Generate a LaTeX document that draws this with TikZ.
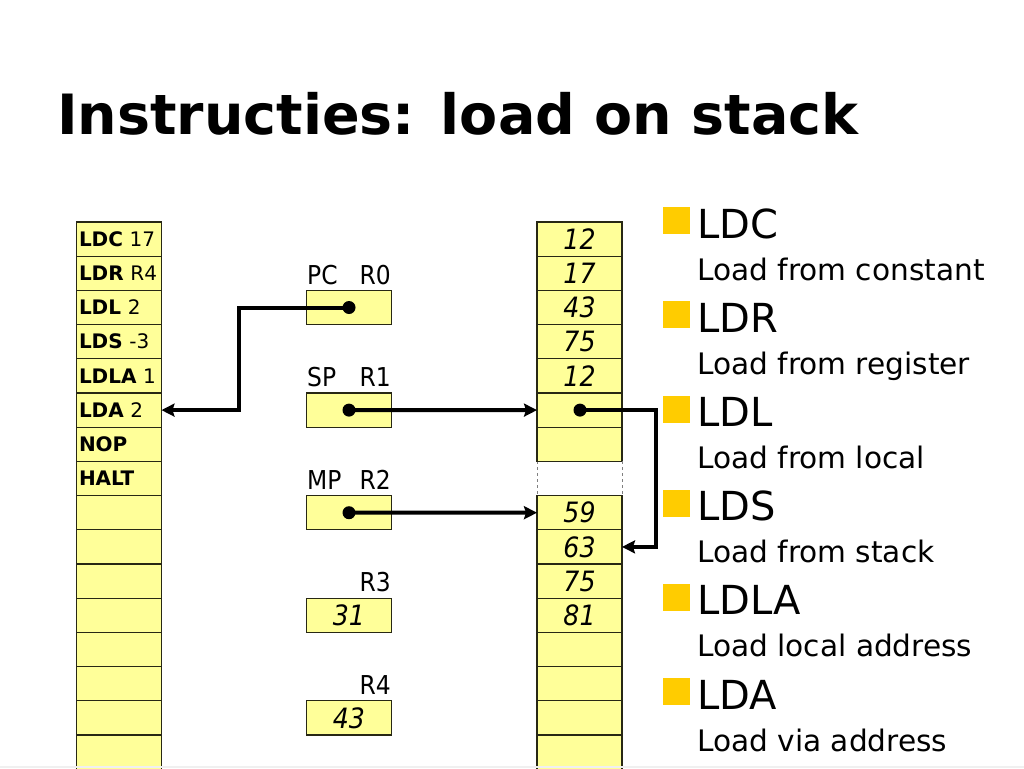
\documentclass[tikz,border=0pt]{standalone}
\usepackage{fontspec}
\setmainfont{DejaVu Sans}
\newfontfamily\condfont{DejaVu Sans Condensed}
\usetikzlibrary{arrows.meta}
\definecolor{cellyellow}{RGB}{255,255,153}
\definecolor{bulletyellow}{RGB}{255,204,0}
\definecolor{cellborder}{RGB}{40,40,20}
\begin{document}
\begin{tikzpicture}[x=1pt,y=-1pt,
  cell/.style={draw=cellborder, line width=1.2pt, fill=cellyellow, minimum width=85pt, minimum height=34.2pt, inner sep=0pt, outer sep=0pt},
  instr/.style={cell, text width=80pt, inner xsep=2.5pt, align=left, font=\fontsize{20}{24}\selectfont},
  val/.style={cell, font=\condfont\fontsize{28}{32}\selectfont\itshape},
  reglabel/.style={font=\condfont\fontsize{26}{30}\selectfont, inner sep=0pt},
  dot/.style={circle, fill=black, minimum size=13pt, inner sep=0pt},
  conn/.style={line width=4pt, -{Stealth[length=13pt,width=13pt,inset=2pt]}},
  bullet/.style={fill=bulletyellow, draw=none, minimum size=27pt, inner sep=0pt, anchor=north west},
  bigtext/.style={font=\fontsize{40}{44}\selectfont, inner sep=0pt, anchor=base west},
  subtext/.style={font=\fontsize{29.6}{34}\selectfont, inner sep=0pt, anchor=base west},
  gapline/.style={draw=gray, line width=1pt, dashed}
]
\useasboundingbox (0,0) rectangle (1024,768);
\fill[white] (0,0) rectangle (1024,768);

% title
\node[font=\fontsize{55.5}{60}\selectfont\bfseries, inner sep=0pt, anchor=base west] (title) at (57,134) {Instructies: load on stack};

% program column
\foreach \k/\t in {0/{\textbf{LDC} 17},1/{\textbf{LDR} R4},2/{\textbf{LDL} 2},3/{\textbf{LDS} -3},4/{\textbf{LDLA} 1},5/{\textbf{LDA} 2},6/{\textbf{NOP}},7/{\textbf{HALT}},8/{},9/{},10/{},11/{},12/{},13/{},14/{},15/{}}
  \node[instr] (c\k) at (119,239.1+34.2*\k) {\mbox{\t}};

% registers
\node[cell] (r0) at (349,307.5) {};
\node[cell] (r1) at (349,410.1) {};
\node[cell] (r2) at (349,512.7) {};
\node[val] (r3) at (349,615.3) {31};
\node[val] (r4) at (349,717.9) {43};
\node[reglabel, anchor=base west] (lpc) at (307,284) {PC};
\node[reglabel, anchor=base east] (lr0) at (391,284) {R0};
\node[reglabel, anchor=base west] (lsp) at (307,386.6) {SP};
\node[reglabel, anchor=base east] (lr1) at (391,386.6) {R1};
\node[reglabel, anchor=base west] (lmp) at (307,489.2) {MP};
\node[reglabel, anchor=base east] (lr2) at (391,489.2) {R2};
\node[reglabel, anchor=base east] (lr3) at (391,591.8) {R3};
\node[reglabel, anchor=base east] (lr4) at (391,694.4) {R4};

% stack column
\foreach \k/\t in {0/12,1/17,2/43,3/75,4/12,5/{},6/{},8/59,9/63,10/75,11/81,12/{},13/{},14/{},15/{}}
  \node[val] (s\k) at (579.5,239.1+34.2*\k) {\t};
\node[minimum width=85pt, minimum height=34.2pt, inner sep=0pt, outer sep=0pt] (s7) at (579.5,478.5) {};
\draw[gapline] (s7.north west) -- (s7.south west);
\draw[gapline] (s7.north east) -- (s7.south east);
\draw[draw=cellborder, line width=1.2pt] (s6.south west) -- (s6.south east);
\draw[draw=cellborder, line width=1.2pt] (s8.north west) -- (s8.north east);

% dots
\node[dot] (pcdot) at (349,307.5) {};
\node[dot] (spdot) at (349,410.1) {};
\node[dot] (mpdot) at (349,512.7) {};
\node[dot] (sdot) at (580,410.1) {};

% connectors
\coordinate (b1) at (239,307.5);
\coordinate (b2) at (656,410.1);
\draw[conn] (pcdot.center) -- (b1) |- (c5.east);
\draw[conn] (spdot.center) -- (s5.west);
\draw[conn] (mpdot.center) -- (s8.west);
\draw[conn] (sdot.center) -- (b2) |- (s9.east);

% bullet list
\foreach \i/\a/\b in {0/LDC/Load from constant,1/LDR/Load from register,2/LDL/Load from local,3/LDS/Load from stack,4/LDLA/Load local address,5/LDA/Load via address}{
  \node[bullet] (q\i) at (663,207+94.2*\i) {};
  \node[bigtext] (h\i) at (697,238+94.2*\i) {\a};
  \node[subtext] (d\i) at (697,280+94.2*\i) {\b};
}

% bottom rule
\fill[gray!12] (0,765.5) rectangle (1024,768);
\end{tikzpicture}
\end{document}
